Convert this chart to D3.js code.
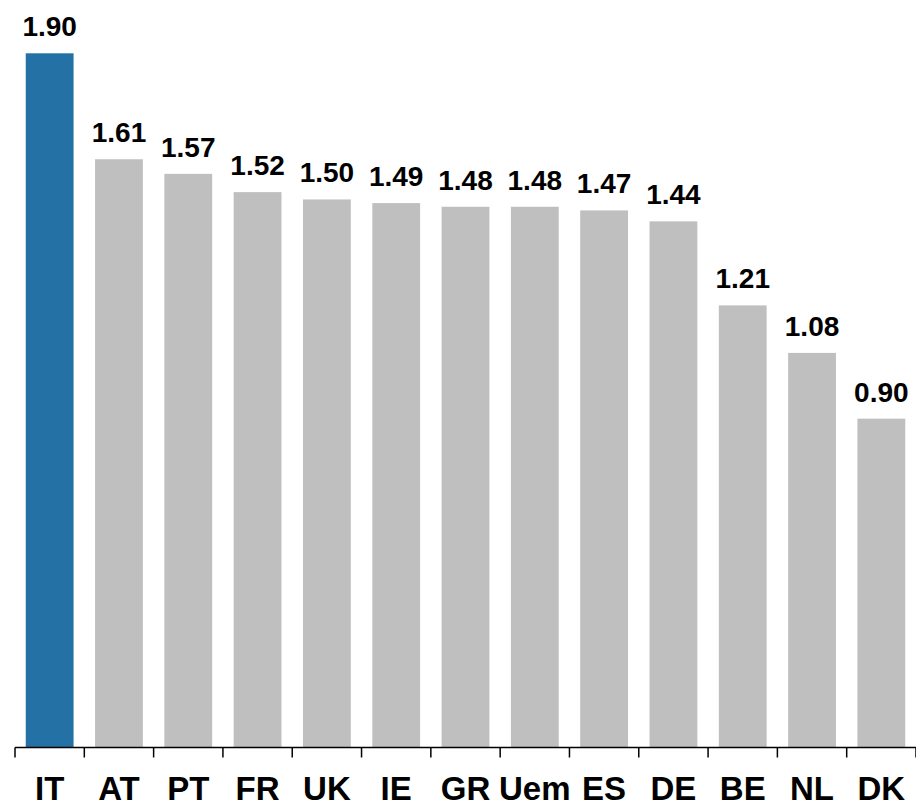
<!DOCTYPE html>
<html>
<head>
<meta charset="utf-8">
<script src="https://cdn.jsdelivr.net/npm/d3@7"></script>
<style>
  body { margin: 0; background: #fff; }
  text { font-family: "Liberation Sans", Arial, sans-serif; font-weight: bold; fill: #000; }
</style>
</head>
<body>
<svg id="chart" width="916" height="807"></svg>
<script>
const countries = ["IT", "AT", "PT", "FR", "UK", "IE", "GR", "Uem", "ES", "DE", "BE", "NL", "DK"];
const values = [1.90, 1.61, 1.57, 1.52, 1.50, 1.49, 1.48, 1.48, 1.47, 1.44, 1.21, 1.08, 0.90];
const highlight = ["IT"];

const svg = d3.select("#chart");
const baseY = 747.5;

const x = d3.scaleBand()
  .domain(countries)
  .range([15, 916])
  .paddingInner(0.31)
  .paddingOuter(0.155);

const y = d3.scaleLinear()
  .domain([0, 1.9])
  .range([baseY, 53.3]);

const data = countries.map((c, i) => ({ c, v: values[i] }));

svg.append("g")
  .selectAll("rect")
  .data(data)
  .enter()
  .append("rect")
  .attr("x", (d) => x(d.c))
  .attr("y", (d) => y(d.v))
  .attr("width", x.bandwidth())
  .attr("height", (d) => baseY - y(d.v))
  .attr("fill", (d) => (highlight.includes(d.c) ? "#2471a6" : "#bfbfbf"));

//--value labels
svg.append("g")
  .selectAll("text")
  .data(data)
  .enter()
  .append("text")
  .attr("x", (d) => x(d.c) + x.bandwidth() / 2)
  .attr("y", (d) => y(d.v) - 17)
  .attr("text-anchor", "middle")
  .attr("font-size", "28px")
  .text((d) => d3.format(".2f")(d.v));

//--axis line + ticks between categories
const step = x.step();
const edges = d3.range(countries.length + 1).map((i) => 15 + i * step);
const axis = svg.append("g").attr("stroke", "#000").attr("stroke-width", 1.5);
axis.append("line")
  .attr("x1", 15).attr("x2", 916)
  .attr("y1", baseY).attr("y2", baseY);
axis.selectAll(".tick")
  .data(edges)
  .enter()
  .append("line")
  .attr("class", "tick")
  .attr("x1", (d) => d).attr("x2", (d) => d)
  .attr("y1", baseY).attr("y2", baseY + 10);

//--category labels
svg.append("g")
  .selectAll("text")
  .data(countries)
  .enter()
  .append("text")
  .attr("x", (d) => x(d) + x.bandwidth() / 2)
  .attr("y", 800)
  .attr("text-anchor", "middle")
  .attr("font-size", "33px")
  .text((d) => d);
</script>
</body>
</html>
